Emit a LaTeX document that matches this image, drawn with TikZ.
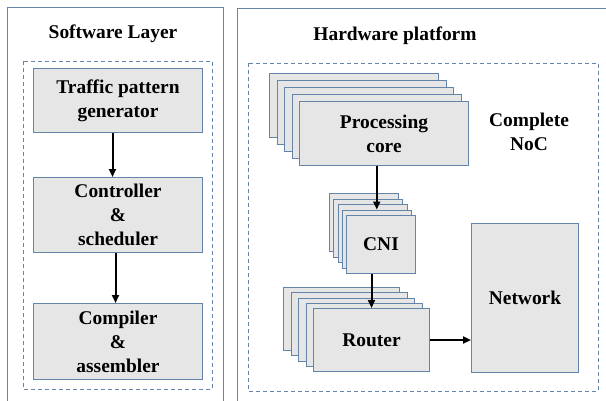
\documentclass[tikz,border=0pt]{standalone}
\usepackage{fontspec}
\setmainfont{Liberation Serif}
\usetikzlibrary{arrows.meta}
\definecolor{edgeblue}{RGB}{100,132,170}
\definecolor{boxgray}{RGB}{230,230,230}
\tikzset{
  panel/.style={draw=edgeblue, line width=1bp},
  group/.style={draw=edgeblue, line width=1bp, dash pattern=on 4bp off 3bp},
  blk/.style={draw=edgeblue, fill=boxgray, line width=1bp, inner sep=0pt, anchor=north west,
    font=\bfseries\fontsize{19.5}{24}\selectfont, align=center},
  lbl/.style={font=\bfseries\fontsize{19.5}{24}\selectfont, align=center},
  arr/.style={line width=2bp, -{Triangle[length=8bp,width=7bp]}}
}
\begin{document}
\begin{tikzpicture}[x=1bp, y=-1bp]
\useasboundingbox (0,0) rectangle (606,400);
% outer panels
\draw[panel] (7,420) -- (7,7) -- (223,7) -- (223,420);
\draw[panel] (237,420) -- (237,8) -- (620,8);
\node[lbl] (swt) at (113,34) {Software Layer};
\node[lbl] (hwt) at (395,36) {Hardware platform};
% dashed groups
\draw[group] (23,61) rectangle (212,389);
\draw[group] (248,63) rectangle (598,391);
% software chain
\node[blk, minimum width=169bp, minimum height=64bp] (tpg) at (33,68) {Traffic pattern\\generator};
\node[blk, minimum width=169bp, minimum height=75bp] (ctl) at (33,177) {Controller\\\&\\scheduler};
\node[blk, minimum width=169bp, minimum height=76bp] (cmp) at (33,303) {Compiler\\\&\\assembler};
\draw[arr] ([xshift=-5.5bp]tpg.south) -- ([xshift=-5.5bp]ctl.north);
\draw[arr] ([xshift=-2.5bp]ctl.south) -- ([xshift=-2.5bp]cmp.north);
% processing core stack
\foreach \i in {1,...,4}
  \node[blk, minimum width=169bp, minimum height=64bp] (pc\i) at ({269+7.5*(\i-1)},{73+7*(\i-1)}) {};
\node[blk, minimum width=169bp, minimum height=64bp] (pc5) at (299,101) {Processing\\core};
\node[lbl] (noc) at (529,132) {Complete\\NoC};
% CNI stack
\foreach \i in {1,...,4}
  \node[blk, minimum width=69bp, minimum height=58bp] (cni\i) at ({329+4.25*(\i-1)},{193+5.5*(\i-1)}) {};
\node[blk, minimum width=69bp, minimum height=58bp] (cni5) at (346,215) {CNI};
% router stack
\foreach \i in {1,...,4}
  \node[blk, minimum width=116bp, minimum height=63bp] (rt\i) at ({283+7.5*(\i-1)},{287+5.25*(\i-1)}) {};
\node[blk, minimum width=116bp, minimum height=63bp] (rt5) at (313,308) {Router};
% network
\node[blk, minimum width=107bp, minimum height=149bp] (net) at (471,223) {Network};
% connectors
\draw[arr] (pc5.south -| cni4.north) -- (cni4.north);
\draw[arr] (cni5.south -| rt5.north) -- (rt5.north);
\draw[arr] (rt5.east) -- (rt5.east -| net.west);
\end{tikzpicture}
\end{document}
